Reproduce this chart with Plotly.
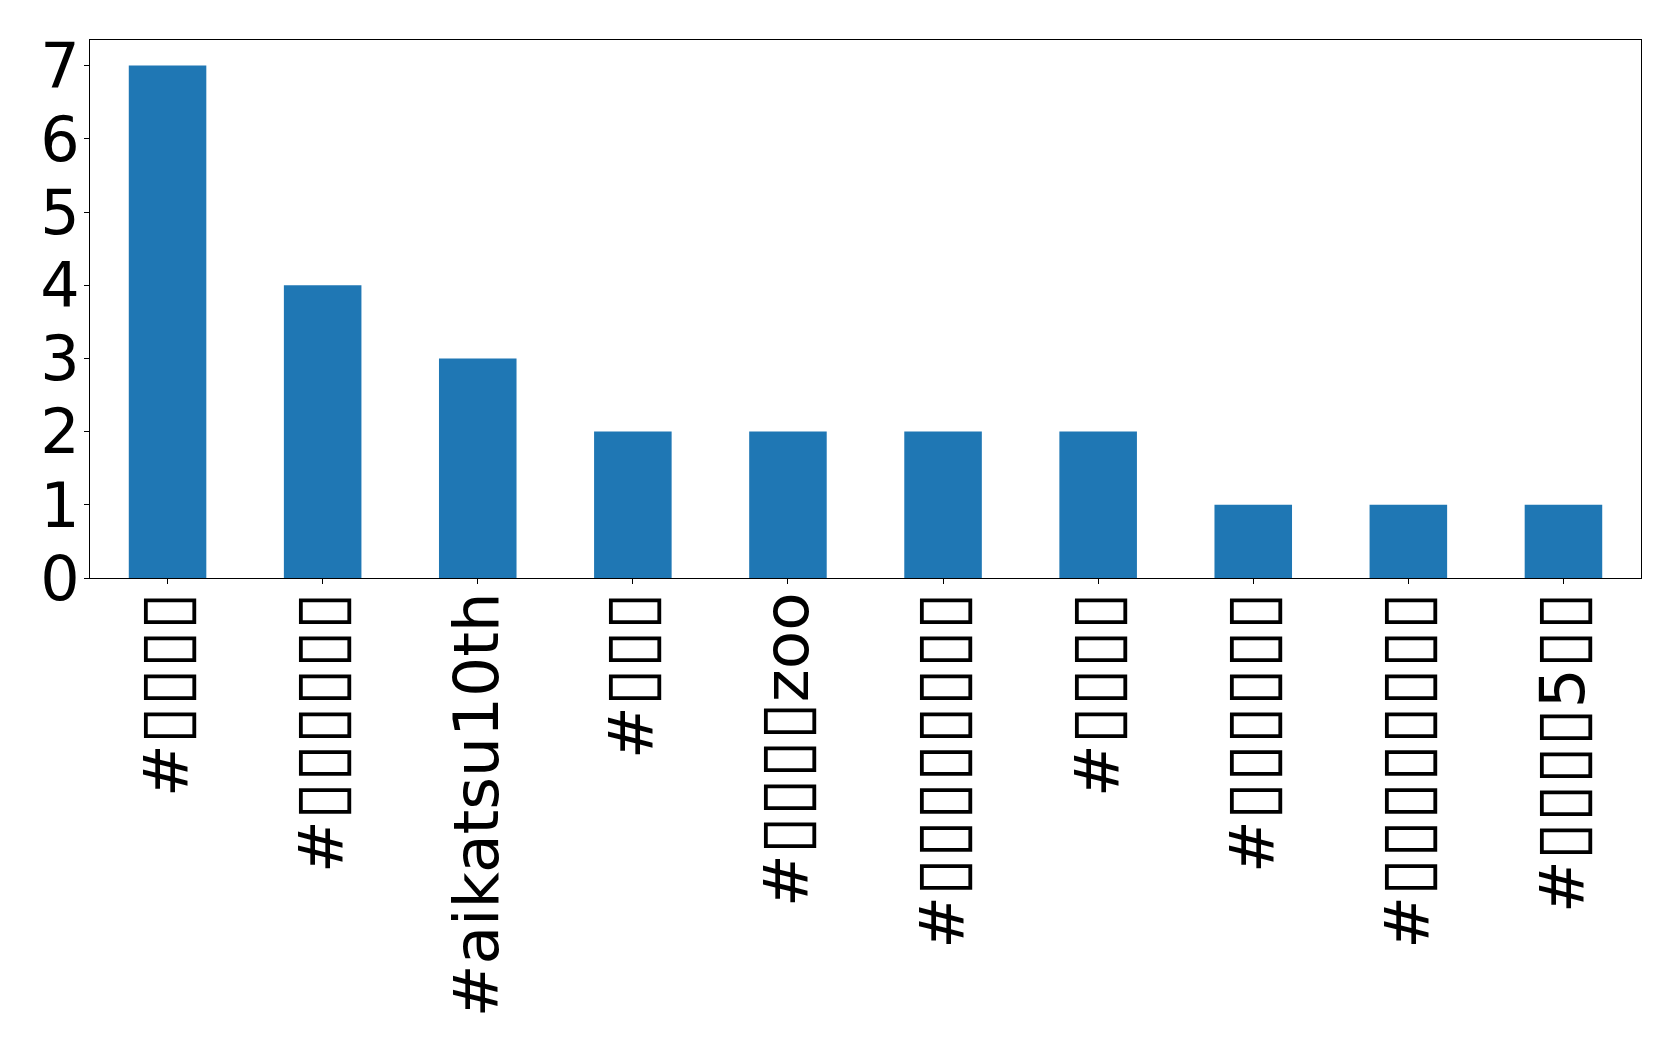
import plotly.graph_objects as go

categories = ["#▯▯▯▯", "#▯▯▯▯▯▯", "#aikatsu10th", "#▯▯▯", "#▯▯▯▯zoo",
              "#▯▯▯▯▯▯▯▯", "#▯▯▯▯", "#▯▯▯▯▯▯", "#▯▯▯▯▯▯▯▯", "#▯▯▯▯5▯▯"]
counts = [7, 4, 3, 2, 2, 2, 2, 1, 1, 1]
y_ticks = [0, 1, 2, 3, 4, 5, 6, 7]

# enlarge the missing-glyph boxes slightly so they match the reference's tofu width
tick_text = [c.replace("▯", '<span style="font-size:69px">▯</span>') for c in categories]

fig = go.Figure(go.Bar(x=list(range(len(categories))), y=counts, width=0.5,
                       marker=dict(color="#1f77b4", line=dict(width=0))))

font = dict(family="DejaVu Sans", size=62, color="black")
xfont = dict(family="DejaVu Sans", size=63, color="black")
fig.update_layout(
    width=1679, height=1049,
    margin=dict(l=82, r=46, t=32, b=479),
    paper_bgcolor="white", plot_bgcolor="white",
    showlegend=False, font=font,
)
fig.update_xaxes(
    range=[-0.5, len(categories) - 0.5],
    tickmode="array", tickvals=list(range(len(categories))), ticktext=tick_text,
    tickangle=-90, ticks="outside", ticklen=5, tickwidth=1, tickcolor="black",
    ticklabelstandoff=-17,
    showline=True, linecolor="black", linewidth=1, mirror=True,
    showgrid=False, zeroline=False, tickfont=xfont,
)
fig.update_yaxes(
    range=[0, 7.35], tickmode="array", tickvals=y_ticks,
    ticks="outside", ticklen=5, tickwidth=1, tickcolor="black",
    ticklabelstandoff=-8,
    showline=True, linecolor="black", linewidth=1, mirror=True,
    showgrid=False, zeroline=False, tickfont=font,
)
fig.write_html("out.html")
